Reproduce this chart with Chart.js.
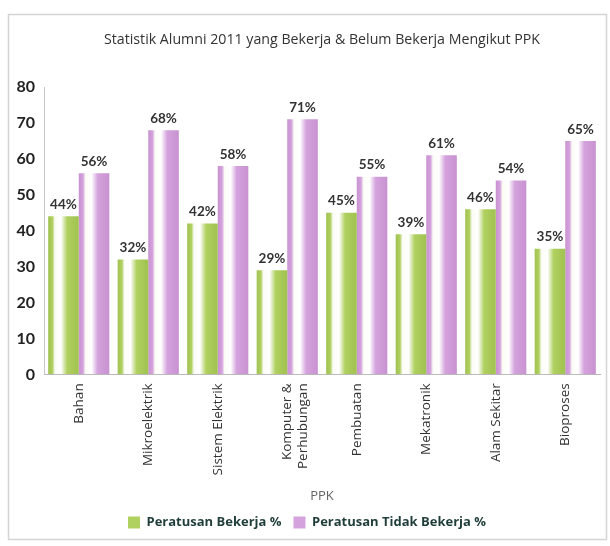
<!DOCTYPE html>
<html><head><meta charset="utf-8">
<script src="https://cdn.jsdelivr.net/npm/chart.js@4/dist/chart.umd.min.js"></script>
<style>html,body{margin:0;padding:0;background:#fff}#wrap{width:610px;height:546px;position:relative}</style>
</head><body><div id="wrap"><canvas id="c" width="610" height="546"></canvas></div>
<script>
const categories = ["Bahan","Mikroelektrik","Sistem Elektrik",["Komputer &","Perhubungan"],"Pembuatan","Mekatronik","Alam Sekitar","Bioproses"];
const bekerja = [44,32,42,29,45,39,46,35];
const tidakBekerja = [56,68,58,71,55,61,54,65];
const yTicks = [0,10,20,30,40,50,60,70,80];

const GREEN = '#b0d060', PURPLE = '#d4a2dd';
const GREEN_D = '#a0c250', PURPLE_D = '#c892d0';

const borderPlugin = {
  id:'border',
  beforeDraw(chart){
    const ctx = chart.ctx;
    ctx.save();
    ctx.fillStyle='#fff'; ctx.fillRect(0,0,chart.width,chart.height);
    ctx.strokeStyle='#d4d4d4'; ctx.lineWidth=1.5;
    ctx.strokeRect(8.5,14.5,598,525);
    ctx.restore();
  }
};
const gradPlugin = {
  id:'grad',
  beforeDatasetsDraw(chart){
    const ctx = chart.ctx;
    chart.data.datasets.forEach((ds,di)=>{
      const meta = chart.getDatasetMeta(di);
      const c = di===0?GREEN:PURPLE, d = di===0?GREEN_D:PURPLE_D;
      meta.data.forEach(el=>{
        const l = el.x - el.width/2, r = el.x + el.width/2;
        const g = ctx.createLinearGradient(l,0,r,0);
        g.addColorStop(0,d);
        g.addColorStop(0.14,c);
        g.addColorStop(0.22,'#fbfbf6');
        g.addColorStop(0.42,'#ffffff');
        g.addColorStop(0.62,c);
        g.addColorStop(1,d);
        el.options = Object.assign({}, el.options, {backgroundColor:g});
      });
    });
  },
  afterDatasetsDraw(chart){
    const ctx = chart.ctx;
    ctx.save();
    ctx.font = 'bold 13.5px Lato, "Open Sans", sans-serif';
    ctx.fillStyle = '#333';
    ctx.textAlign='center'; ctx.textBaseline='bottom';
    chart.data.datasets.forEach((ds,di)=>{
      const meta = chart.getDatasetMeta(di);
      meta.data.forEach((el,i)=>{
        ctx.fillText(ds.data[i]+'%', el.x, el.y-5);
      });
    });
    ctx.restore();
  }
};

new Chart(document.getElementById('c'),{
  type:'bar',
  data:{labels:categories,datasets:[
    {label:'Peratusan Bekerja %',data:bekerja,backgroundColor:GREEN,borderWidth:0},
    {label:'Peratusan Tidak Bekerja %',data:tidakBekerja,backgroundColor:PURPLE,borderWidth:0}
  ]},
  options:{
    responsive:false,animation:false,
    layout:{padding:{left:14,right:10,top:29,bottom:7}},
    categoryPercentage:0.88,barPercentage:1,
    plugins:{
      title:{display:true,text:'Statistik Alumni 2011 yang Bekerja & Belum Bekerja Mengikut PPK',
        fullSize:false,color:'#333',font:{family:'"Open Sans", sans-serif',size:14.2,weight:'normal'},padding:{top:2,bottom:39}},
      legend:{position:'bottom',labels:{boxWidth:12,boxHeight:12,color:'#1f3e3a',padding:12,
        font:{family:'"Open Sans", sans-serif',size:13,weight:'bold'}}},
      tooltip:{enabled:false}
    },
    scales:{
      x:{grid:{display:false,drawTicks:false},border:{display:true,color:'#b8b8b8',dash:[1,2]},
        ticks:{maxRotation:90,minRotation:90,color:'#333',font:{family:'"Open Sans", sans-serif',size:13.5},padding:9},
        title:{display:true,text:'PPK',color:'#666',font:{family:'"Open Sans", sans-serif',size:13},padding:{top:4,bottom:0}}},
      y:{min:0,max:80,afterBuildTicks(ax){ax.ticks=yTicks.map(v=>({value:v}));},
        grid:{display:false,drawTicks:false},border:{display:true,color:'#c8c8c8',dash:[1,3]},
        ticks:{color:'#222',font:{family:'Lato, sans-serif',size:16,weight:'bold'},padding:9},
        afterFit(ax){ax.width=30;}}
    }
  },
  plugins:[borderPlugin,gradPlugin]
});
</script></body></html>
